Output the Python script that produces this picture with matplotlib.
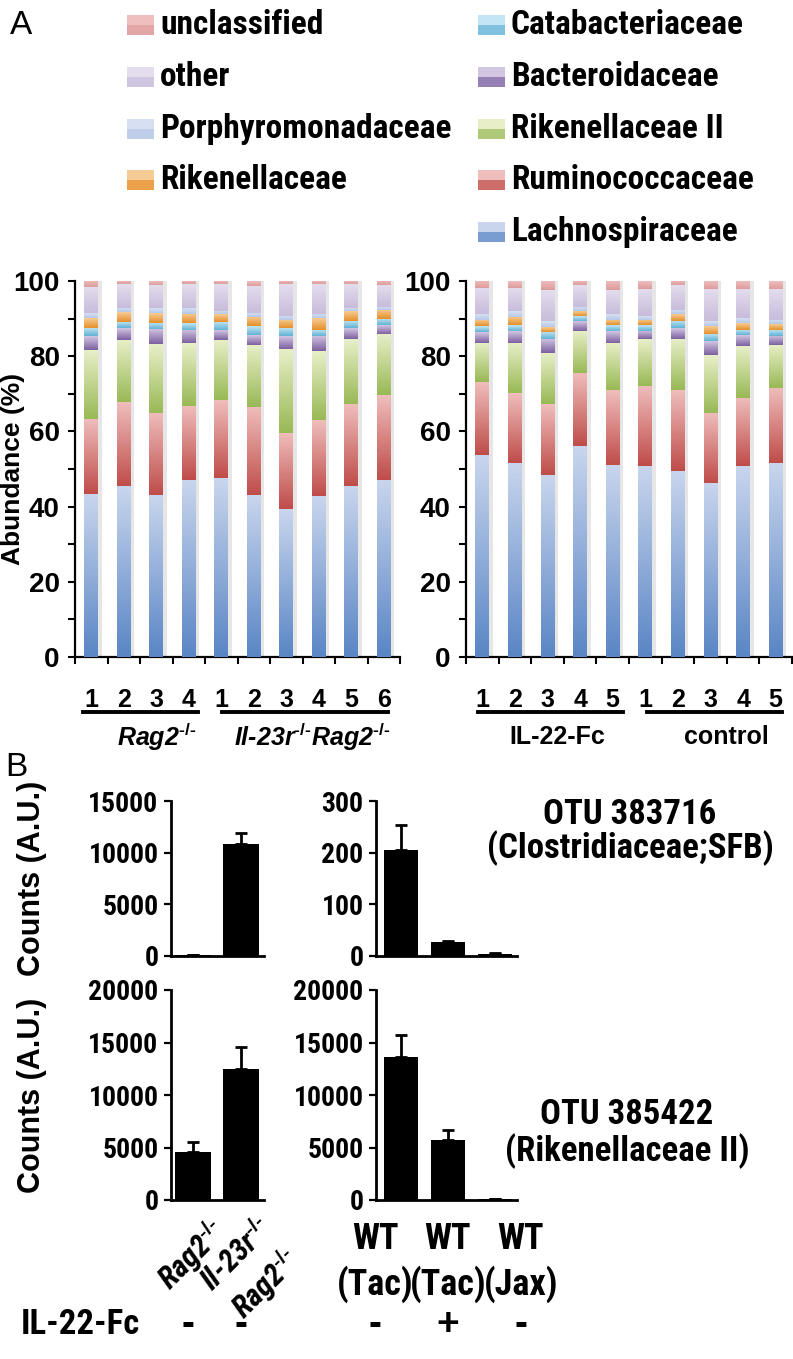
import matplotlib
matplotlib.use("Agg")
import os
import matplotlib.pyplot as plt
import numpy as np
from matplotlib import font_manager
from matplotlib.colors import LinearSegmentedColormap
from matplotlib.font_manager import FontProperties
from matplotlib.patches import Rectangle
from matplotlib.transforms import blended_transform_factory

plt.rcParams["font.family"] = ["Liberation Sans", "DejaVu Sans"]
plt.rcParams["font.weight"] = "bold"
plt.rcParams["axes.labelweight"] = "bold"
plt.rcParams["mathtext.fontset"] = "custom"
plt.rcParams["mathtext.rm"] = "Liberation Sans:bold"
plt.rcParams["mathtext.it"] = "Liberation Sans:bold:italic"
plt.rcParams["mathtext.bf"] = "Liberation Sans:bold"


def find_narrow(style="normal"):
    # look for an installed bold condensed face (the figure uses Arial Narrow Bold)
    pref = ["liberation sans narrow", "arial narrow", "roboto condensed", "open sans condensed",
            "noto sans", "dejavu sans", "roboto", "open sans", "lato", "inter"]
    found = []
    for f in font_manager.fontManager.ttflist:
        n = f.name.lower()
        cond = ("narrow" in n or "condensed" in n or "condensed" in str(f.stretch).lower()
                or "condensed" in os.path.basename(f.fname).lower())
        w = f.weight if isinstance(f.weight, int) else {"bold": 700}.get(f.weight, 400)
        if cond and w >= 600 and f.style == style:
            rank = next((i for i, p in enumerate(pref) if n.startswith(p)), 99)
            found.append((rank, abs(w - 700), f.fname))
    if found:
        return sorted(found)[0][2]
    return None


NARROW_FILE = find_narrow()
NARROW_IT_FILE = find_narrow("italic")


def nfont(size, italic=False):
    path = NARROW_IT_FILE if italic else NARROW_FILE
    if path:
        return FontProperties(fname=path, size=size)
    return FontProperties(family="Liberation Sans", weight="bold",
                          style="italic" if italic else "normal", size=size * 0.9)


# ---- panel A data (bottom -> top of each bar) ----
taxa = ["Lachnospiraceae", "Ruminococcaceae", "Rikenellaceae II", "Bacteroidaceae",
        "Catabacteriaceae", "Rikenellaceae", "Porphyromonadaceae", "other", "unclassified"]
# (light top, dark bottom) colours of each taxon
taxa_colors = [("#C8D5ED", "#5A86C5"), ("#EFBDBB", "#BF4D4A"), ("#E8EFC8", "#99B956"),
               ("#D2C6E3", "#7D61A0"), ("#C4E6F4", "#62B2D5"), ("#F6CC96", "#E5902A"),
               ("#D6E0F2", "#B6C8E8"), ("#E4DDEE", "#C8BCDB"), ("#EFBEBE", "#DD9C9C")]

rag_samples = ["1", "2", "3", "4", "1", "2", "3", "4", "5", "6"]
abund_rag = [  # rows follow taxa
    [43.3, 45.4, 43.0, 47.1, 47.6, 43.0, 39.3, 42.8, 45.6, 47.1],
    [20.0, 22.3, 22.0, 19.7, 20.7, 23.5, 20.3, 20.2, 21.8, 22.6],
    [18.4, 16.7, 18.2, 16.7, 16.1, 16.6, 22.4, 18.3, 17.2, 16.3],
    [3.6, 3.1, 4.0, 3.5, 2.6, 2.6, 3.3, 4.0, 2.9, 2.2],
    [2.2, 1.6, 1.6, 1.8, 2.2, 2.2, 2.2, 1.7, 1.9, 1.7],
    [2.6, 2.6, 2.6, 2.4, 2.1, 2.4, 2.2, 3.1, 2.5, 2.4],
    [1.3, 1.1, 1.3, 1.6, 0.8, 1.1, 1.1, 1.2, 0.9, 0.9],
    [7.0, 6.3, 6.3, 6.3, 7.0, 7.3, 8.3, 7.8, 6.3, 5.7],
    [1.6, 0.9, 1.0, 0.9, 0.9, 1.3, 0.9, 0.9, 0.9, 1.1],
]

fc_samples = ["1", "2", "3", "4", "5", "1", "2", "3", "4", "5"]
abund_fc = [
    [53.7, 51.7, 48.4, 56.1, 51.1, 50.7, 49.6, 46.3, 50.7, 51.5],
    [19.4, 18.5, 18.8, 19.5, 19.8, 21.4, 21.3, 18.7, 18.2, 20.0],
    [10.5, 13.4, 13.6, 11.2, 12.7, 12.4, 13.8, 15.4, 13.8, 11.5],
    [2.9, 3.1, 3.8, 2.5, 3.1, 2.2, 2.7, 3.6, 2.9, 2.4],
    [1.5, 1.5, 1.9, 1.3, 1.5, 1.5, 1.9, 2.0, 1.5, 1.7],
    [1.7, 2.2, 1.3, 1.3, 1.5, 1.5, 1.8, 2.0, 1.8, 1.5],
    [1.4, 1.5, 1.5, 1.2, 1.5, 0.9, 1.3, 1.3, 1.3, 1.1],
    [7.0, 6.3, 8.2, 5.8, 6.4, 7.4, 6.5, 8.7, 7.8, 8.3],
    [1.9, 1.8, 2.5, 1.1, 2.4, 2.0, 1.1, 2.0, 2.0, 2.0],
]

SUP = "$^{\u2010/\u2010}$"
# ---- panel B data ----
geno_labels = ["Rag2" + SUP, "Il-23r" + SUP + "\nRag2" + SUP]
wt_labels = ["WT\n(Tac)", "WT\n(Tac)", "WT\n(Jax)"]
il22_geno = ["-", "-"]
il22_wt = ["-", "+", "-"]

sfb_geno = [60, 10800]
sfb_geno_err = [20, 1150]
sfb_wt = [205, 27.5, 4.5]
sfb_wt_err = [48, 2, 1.5]

rik_geno = [4600, 12500]
rik_geno_err = [880, 2100]
rik_wt = [13650, 5700, 90]
rik_wt_err = [2100, 920, 20]

W, H = 793, 1359
fig = plt.figure(figsize=(W / 100, H / 100), dpi=100)


def px_axes(x0, x1, y0, y1):
    return fig.add_axes([x0 / W, 1 - y1 / H, (x1 - x0) / W, (y1 - y0) / H])


def gradient_bars(ax, container, top, bottom):
    cmap = LinearSegmentedColormap.from_list("g", [bottom, top])
    grad = np.linspace(0, 1, 64).reshape(-1, 1)
    for p in container.patches:
        x0, y0, w, h = p.get_x(), p.get_y(), p.get_width(), p.get_height()
        ax.imshow(grad, extent=[x0, x0 + w, y0, y0 + h], origin="lower", cmap=cmap,
                  aspect="auto", interpolation="bilinear", zorder=3)


def stacked(ax, abund, samples, groups):
    x = np.arange(len(samples))
    totals = np.sum(abund, axis=0)
    # soft shadow behind each bar
    ax.bar(x + 0.06, totals, width=0.52, color="#b8b8b8", alpha=0.35, zorder=1)
    bottom = np.zeros(len(samples))
    for vals, (top, dark) in zip(abund, taxa_colors):
        cont = ax.bar(x, vals, width=0.42, bottom=bottom, color="none", zorder=2)
        gradient_bars(ax, cont, top, dark)
        bottom = bottom + np.array(vals)
    ax.set_xlim(-0.5, len(samples) - 0.5)
    ax.set_ylim(0, 100)
    ax.set_yticks(np.arange(0, 101, 20))
    ax.set_yticks(np.arange(10, 100, 20), minor=True)
    ax.set_xticks(x)
    ax.set_xticklabels(samples, fontsize=18)
    ax.set_xticks(np.arange(-0.5, len(samples), 1), minor=True)
    ax.tick_params(axis="x", which="major", length=0, pad=22)
    ax.tick_params(axis="x", which="minor", length=5, width=1.5, direction="out")
    ax.tick_params(axis="y", which="both", length=5, width=1.5, direction="out", pad=6,
                   labelsize=20)
    for s in ["top", "right"]:
        ax.spines[s].set_visible(False)
    for s in ["left", "bottom"]:
        ax.spines[s].set_linewidth(1.6)
    tr = ax.get_xaxis_transform()
    for (x0, x1, xc, label, italic) in groups:
        ax.plot([x0, x1], [-0.145, -0.145], color="k", lw=2.8, transform=tr, clip_on=False)
        ax.text(xc, -0.212, label, transform=tr, ha="center", va="center", fontsize=18,
                style="italic" if italic else "normal", fontweight="bold")


axA1 = px_axes(75, 400, 281, 657)
stacked(axA1, abund_rag, rag_samples,
        [(-0.25, 3.28, 2.0, "Rag2" + SUP, True),
         (4.02, 9.13, 6.8, "Il-23r" + SUP + "Rag2" + SUP, True)])
fig.text(13 / W, 1 - 469 / H, "Abundance (%)", rotation=90, fontsize=19, fontweight="bold",
         ha="center", va="center")

axA2 = px_axes(466, 792, 281, 657)
stacked(axA2, abund_fc, fc_samples,
        [(-0.13, 4.32, 2.3, "IL-22-Fc", False), (5.05, 9.2, 7.5, "control", False)])

# legend, drawn by hand in two columns
leg_cols = [(127, 160, [8, 7, 6, 5]), (478, 511, [4, 3, 2, 1, 0])]
for sx, tx, idx in leg_cols:
    for row, i in enumerate(idx):
        yc = 25 + row * 51.8
        fig.patches.append(Rectangle((sx / W, 1 - (yc + 10) / H), 27 / W, 20 / H,
                                     transform=fig.transFigure,
                                     facecolor=taxa_colors[i][0], edgecolor="none"))
        fig.patches.append(Rectangle((sx / W, 1 - (yc + 10) / H), 27 / W, 10 / H,
                                     transform=fig.transFigure,
                                     facecolor=taxa_colors[i][1], edgecolor="none", alpha=0.7))
        fig.text(tx / W, 1 - yc / H, taxa[i], fontproperties=nfont(24),
                 ha="left", va="center")

fig.text(10 / W, 1 - 25 / H, "A", fontsize=24, fontweight="normal", va="center")
fig.text(5 / W, 1 - 768 / H, "B", fontsize=24, fontweight="normal", va="center")


def count_axes(ax, vals, errs, ymax, step, xlim):
    x = np.arange(len(vals))
    ax.bar(x, vals, width=0.74, color="k", zorder=2)
    ax.errorbar(x, vals, yerr=[np.zeros(len(vals)), errs], fmt="none", ecolor="k",
                elinewidth=2, capsize=4, capthick=2, zorder=3)
    ax.set_xlim(*xlim)
    ax.set_ylim(0, ymax)
    ax.set_yticks(np.arange(0, ymax + 1, step))
    ax.set_xticks([])
    ax.tick_params(axis="y", length=5, width=1.6, pad=4)
    for lab in ax.get_yticklabels():
        lab.set_fontproperties(nfont(20))
    for s in ["top", "right"]:
        ax.spines[s].set_visible(False)
    for s in ["left", "bottom"]:
        ax.spines[s].set_linewidth(2)


axB1 = px_axes(171, 264, 801, 956)
count_axes(axB1, sfb_geno, sfb_geno_err, 15000, 5000, (-0.45, 1.47))
axB2 = px_axes(376, 517, 801, 956)
count_axes(axB2, sfb_wt, sfb_wt_err, 300, 100, (-0.53, 2.47))
axB3 = px_axes(171, 264, 990, 1200)
count_axes(axB3, rik_geno, rik_geno_err, 20000, 5000, (-0.45, 1.47))
axB4 = px_axes(376, 517, 990, 1200)
count_axes(axB4, rik_wt, rik_wt_err, 20000, 5000, (-0.53, 2.47))

for ax in (axB1, axB3):
    y0, y1 = ax.get_position().y0, ax.get_position().y1
    fig.text(32 / W, (y0 + y1) / 2, "Counts (A.U.)", rotation=90, fontsize=22,
             fontweight="bold", ha="center", va="center")

fig.text(630 / W, 1 - 815 / H, "OTU 383716", fontproperties=nfont(25), ha="center", va="center")
fig.text(630 / W, 1 - 848 / H, "(Clostridiaceae;SFB)", fontproperties=nfont(25), ha="center", va="center")
fig.text(627 / W, 1 - 1115 / H, "OTU 385422", fontproperties=nfont(25), ha="center", va="center")
fig.text(627 / W, 1 - 1151 / H, "(Rikenellaceae II)", fontproperties=nfont(25), ha="center", va="center")

# genotype labels under bottom-left bars
tr3 = axB3.get_xaxis_transform()
for i, lab in enumerate(geno_labels):
    axB3.text(i + 0.3, -0.06, lab, transform=tr3, rotation=45, ha="right", va="top",
              fontproperties=nfont(22, italic=True), multialignment="center",
              rotation_mode="anchor")
tr4 = axB4.get_xaxis_transform()
for i, lab in enumerate(wt_labels):
    axB4.text(i + (i - 1) * 0.55, -0.1, lab, transform=tr4, ha="center", va="top",
              fontproperties=nfont(26), linespacing=1.3)

fig.text(80 / W, 1 - 1325 / H, "IL-22-Fc", fontproperties=nfont(25), ha="center", va="center")
trs3 = blended_transform_factory(axB3.transData, fig.transFigure)
for i, s in enumerate(il22_geno):
    fig.text(i - 0.1 * (1 - i), 1 - 1325 / H, s, transform=trs3, fontsize=28,
             ha="center", va="center")
trs4 = blended_transform_factory(axB4.transData, fig.transFigure)
for i, s in enumerate(il22_wt):
    fig.text(i + (i - 1) * 0.55, 1 - 1325 / H, s, transform=trs4, fontsize=28,
             ha="center", va="center")

fig.savefig("out.png", dpi=100)
